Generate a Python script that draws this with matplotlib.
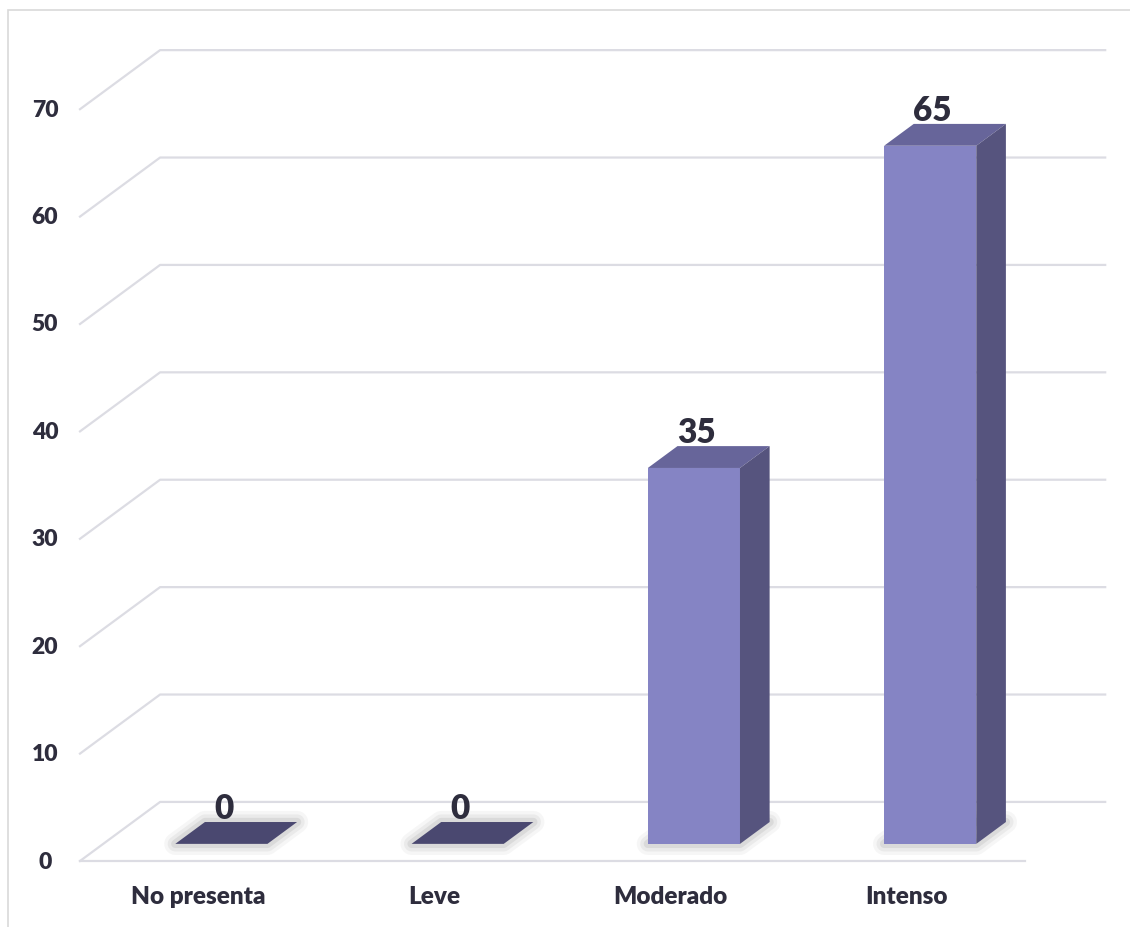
import matplotlib.pyplot as plt
import numpy as np
from matplotlib.patches import Polygon, Rectangle

categorias = ['No presenta', 'Leve', 'Moderado', 'Intenso']
valores = [0, 0, 35, 65]
ticks_y = [0, 10, 20, 30, 40, 50, 60, 70]

# profundidad del efecto 3D (en unidades de datos)
PX, PY = 0.339, 5.5
F0, F1 = 0.29, 0.66
ANCHO = 0.39

C_FRENTE = '#8584C4'
C_TECHO = '#67659A'
C_LADO = '#56547E'
C_PLANO = '#4A4870'
C_GRID = '#DCDCE3'
C_TEXTO = '#2E2D3D'

plt.rcParams['font.family'] = ['Lato', 'DejaVu Sans']
PESO = 'heavy'

fig = plt.figure(figsize=(11.3, 9.28), dpi=100)
ax = fig.add_axes([0, 0, 1, 1])
ax.set_xlim(-0.8386, 3.944)
ax.set_ylim(-6.145, 80.26)
ax.axis('off')

# marco exterior
fig.patches.append(Rectangle((0.0071, -0.1), 1.1, 1.088, transform=fig.transFigure,
                             fill=False, ec='#D9D9D9', lw=1.2))

# lineas de cuadricula (pared de fondo + diagonal lateral)
for t in ticks_y:
    ax.plot([-0.5, -0.5 + PX, 3.5 + PX], [t, t + PY, t + PY], color=C_GRID, lw=1.6, zorder=1)
    ax.text(-0.648, t, str(t), ha='center', va='center', fontsize=16.5,
            fontweight=PESO, color=C_TEXTO)
ax.plot([-0.5, 3.5], [0, 0], color=C_GRID, lw=1.6, zorder=1)

for i, cat in enumerate(categorias):
    ax.text(i, -3.26, cat, ha='center', va='center', fontsize=17.5,
            fontweight=PESO, color=C_TEXTO)

x = np.arange(len(valores)) + F0 * PX
d = F1 - F0
w = ANCHO / 2

# sombras suaves en la base
for xi in x:
    base = [(xi - w, F0 * PY), (xi + w, F0 * PY),
            (xi + w + d * PX, F1 * PY), (xi - w + d * PX, F1 * PY)]
    for lw, a in [(16, 0.05), (11, 0.07), (6, 0.1)]:
        ax.add_patch(Polygon(base, closed=True, fill=False, ec='#555555', lw=lw,
                             alpha=a, joinstyle='round', zorder=2))

ax.bar(x, valores, width=ANCHO, bottom=F0 * PY, color=C_FRENTE, zorder=3)

for xi, v in zip(x, valores):
    techo = [(xi - w, v + F0 * PY), (xi + w, v + F0 * PY),
             (xi + w + d * PX, v + F1 * PY), (xi - w + d * PX, v + F1 * PY)]
    ax.add_patch(Polygon(techo, closed=True, color=C_TECHO if v > 0 else C_PLANO,
                         zorder=4, lw=0))
    if v > 0:
        lado = [(xi + w, F0 * PY), (xi + w, v + F0 * PY),
                (xi + w + d * PX, v + F1 * PY), (xi + w + d * PX, F1 * PY)]
        ax.add_patch(Polygon(lado, closed=True, color=C_LADO, zorder=4, lw=0))
    ax.text(xi + 0.01, v + F1 * PY + 0.4, str(v), ha='center', va='baseline',
            fontsize=24, fontweight=PESO, color=C_TEXTO, zorder=5)

fig.savefig('out.png', dpi=100)
